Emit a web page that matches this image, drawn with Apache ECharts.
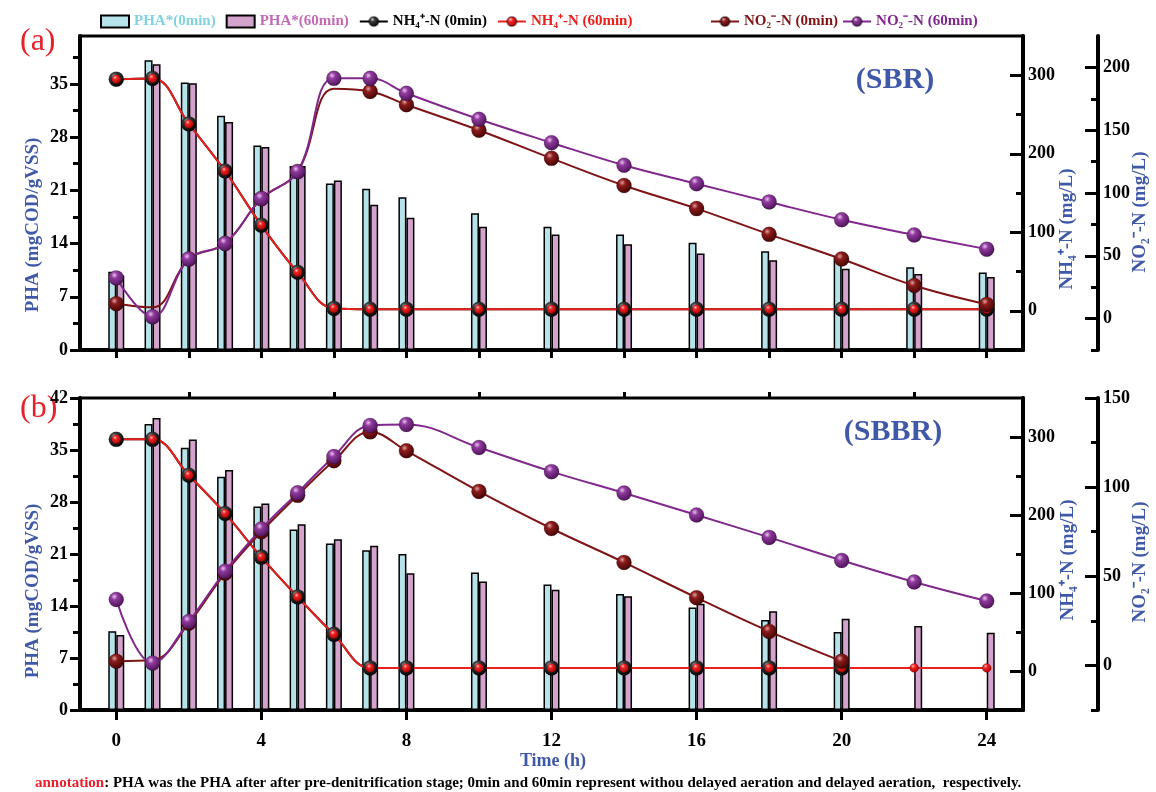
<!DOCTYPE html>
<html>
<head>
<meta charset="utf-8">
<script src="https://cdn.jsdelivr.net/npm/echarts@6/dist/echarts.min.js"></script>
<style>
  html, body { margin: 0; padding: 0; background: #fff; }
  #main { width: 1156px; height: 792px; }
</style>
</head>
<body>
<div id="main"></div>
<script>
// sampling times (h)
var times = [0, 1, 2, 3, 4, 5, 6, 7, 8, 10, 12, 14, 16, 18, 20, 22, 24];

// (a) SBR
var phaA0 = [10.3, 38.1, 35.2, 30.8, 26.9, 24.2, 21.9, 21.2, 20.1, 18.0, 16.2, 15.2, 14.1, 13.0, 12.2, 10.9, 10.2];
var phaA60 = [9.8, 37.6, 35.1, 30.0, 26.7, 24.2, 22.3, 19.1, 17.4, 16.2, 15.2, 13.9, 12.7, 11.8, 10.7, 10.0, 9.6];
var nh4A0 = [295, 296, 238, 178, 109, 49, 3, 2, 2, 2, 2, 2, 2, 2, 2, 2, 2];
var nh4A60 = [295, 296, 238, 178, 109, 49, 3, 2, 2, 2, 2, 2, 2, 2, 2, 2, 2];
var no2A0 = [11.9, 9, 47.4, 59.8, 95.5, 117, 183, 180.8, 170.3, 150, 127.6, 106, 87.6, 67.1, 47.4, 26.3, 11.3];
var no2A60 = [32.4, 1.4, 47.4, 59.8, 95.5, 117, 191.3, 191.3, 179.4, 158.7, 140, 122.1, 107.4, 92.9, 78.7, 66.6, 55.3];

// (b) SBBR
var phaB0 = [10.6, 38.5, 35.3, 31.4, 27.4, 24.3, 22.4, 21.5, 21.0, 18.5, 16.9, 15.6, 13.8, 12.1, 10.5, null, null];
var phaB60 = [10.1, 39.3, 36.4, 32.3, 27.8, 25.0, 23.0, 22.1, 18.4, 17.3, 16.2, 15.3, 14.3, 13.3, 12.3, 11.3, 10.4];
var nh4B0 = [297, 297, 251, 202, 146, 95, 47, 4, 4, 4, 4, 4, 4, 4, 4, null, null];
var nh4B60 = [297, 297, 251, 202, 146, 95, 47, 4, 4, 4, 4, 4, 4, 4, 4, 4, 4];
var no2B0 = [2.4, 3, 23.7, 51.8, 75, 95.4, 114.8, 131, 120.4, 97.6, 76.8, 57.8, 38, 19.1, 2.4, null, null];
var no2B60 = [37, 1.3, 24.6, 52.8, 76.5, 96.8, 117.2, 134.6, 135.2, 122.2, 108.7, 96.7, 84.4, 71.8, 58.9, 46.8, 36.1];

// points drawn without a marker (hidden in the original)
var hiddenNo2A0 = [1, 6];
var hiddenNo2B0 = [1];

var xMajor = [0, 4, 8, 12, 16, 20, 24];
var xMinor = [2, 6, 10, 14, 18, 22];

var names = ['PHA*(0min)', 'PHA*(60min)', 'NH\u2084\u207A-N (0min)', 'NH\u2084\u207A-N (60min)', 'NO\u2082\u207B-N (0min)', 'NO\u2082\u207B-N (60min)'];

var FONT = '"Liberation Serif", "Times New Roman", serif';
var BLUE = '#3f58a8';

function sphere(light, base, dark) {
  return {
    type: 'radial', x: 0.38, y: 0.32, r: 0.7,
    colorStops: [{ offset: 0, color: light }, { offset: 0.3, color: base }, { offset: 1, color: dark }]
  };
}
var blackBall = sphere('#c8c8c8', '#3a3a3a', '#000000');
var redBall = sphere('#ffc0c0', '#f02424', '#a80000');
var darkRedBall = sphere('#e0a0a0', '#8c1c1c', '#420404');
var purpleBall = sphere('#ecc0f0', '#8e3a9c', '#4c1256');

function pairs(vals, hidden) {
  var out = [];
  vals.forEach(function (v, i) {
    if (v === null) return;
    if (hidden && hidden.indexOf(i) >= 0) out.push({ value: [times[i], v], symbol: 'none' });
    else out.push([times[i], v]);
  });
  return out;
}

function xAxis(grid, showLabels) {
  var list = [];
  list.push({
    type: 'value', gridIndex: grid, min: -1, max: 25,
    axisLine: { show: true, onZero: false, lineStyle: { color: '#000', width: 4 } },
    axisTick: { show: true, customValues: showLabels ? xMajor : xMajor.concat(xMinor), length: showLabels ? 10 : 8, lineStyle: { color: '#000', width: 3 } },
    axisLabel: { show: showLabels, customValues: xMajor, margin: 22, fontFamily: FONT, fontWeight: 'bold', fontSize: 19, color: '#000' },
    splitLine: { show: false }
  });
  if (showLabels) {
    list.push({
      type: 'value', gridIndex: grid, min: -1, max: 25,
      axisLine: { show: false, onZero: false },
      axisTick: { show: true, customValues: xMinor, length: 6, lineStyle: { color: '#000', width: 3 } },
      axisLabel: { show: false },
      splitLine: { show: false }
    });
  }
  return list;
}

// one axis = a major axis (line, long ticks, labels) + a minor axis (short ticks)
function yPair(grid, pos, offset, min, max, major, minor, inside) {
  var base = { type: 'value', gridIndex: grid, position: pos, offset: offset, min: min, max: max, splitLine: { show: false } };
  var a = Object.assign({}, base, {
    axisLine: { show: true, onZero: false, lineStyle: { color: '#000', width: 4 } },
    axisTick: { show: true, inside: inside, customValues: major, length: inside ? 13 : 10, lineStyle: { color: '#000', width: 3 } },
    axisLabel: { show: true, customValues: major, margin: inside ? 5 : 12, fontFamily: FONT, fontWeight: 'bold', fontSize: 18, color: '#000' }
  });
  var b = Object.assign({}, base, {
    axisLine: { show: false, onZero: false },
    axisTick: { show: true, inside: inside, customValues: minor, length: 7, lineStyle: { color: '#000', width: 3 } },
    axisLabel: { show: false }
  });
  return [a, b];
}

var yAxes = [].concat(
  yPair(0, 'left', 0, 0, 41.3, [0, 7, 14, 21, 28, 35], [3.5, 10.5, 17.5, 24.5, 31.5, 38.5], false),
  yPair(0, 'right', 0, -50, 350, [0, 100, 200, 300], [-50, 50, 150, 250], true),
  yPair(0, 'right', 75, -25, 225, [0, 50, 100, 150, 200], [-25, 25, 75, 125, 175], true),
  yPair(1, 'left', 0, 0, 42, [0, 7, 14, 21, 28, 35, 42], [3.5, 10.5, 17.5, 24.5, 31.5, 38.5], false),
  yPair(1, 'right', 0, -50, 350, [0, 100, 200, 300], [-50, 50, 150, 250], true),
  yPair(1, 'right', 75, -25, 150, [0, 50, 100, 150], [-25, 25, 75, 125], true)
);
// y axis indices: panel a -> PHA 0, NH4 2, NO2 4 ; panel b -> PHA 6, NH4 8, NO2 10
// x axis indices: panel a -> 0 ; panel b -> 1 (2 = minor ticks)

function panelSeries(xi, yPha, yNh4, yNo2, p0, p60, n0, n60, o0, o60, hidden0) {
  var barStyle = function (c) { return { color: c, borderColor: '#000', borderWidth: 1.5 }; };
  var line = function (name, data, yi, color, ball, size, width) {
    return {
      name: name, type: 'line', xAxisIndex: xi, yAxisIndex: yi, data: data,
      smooth: 0.4, symbol: 'circle', symbolSize: size,
      lineStyle: { color: color, width: width },
      itemStyle: { color: ball, borderColor: 'rgba(0,0,0,0.35)', borderWidth: 0.5 },
      z: 5
    };
  };
  return [
    { name: names[0], type: 'bar', xAxisIndex: xi, yAxisIndex: yPha, data: pairs(p0), barWidth: 8, barGap: '0%', itemStyle: barStyle('#b6e3e9'), z: 2 },
    { name: names[1], type: 'bar', xAxisIndex: xi, yAxisIndex: yPha, data: pairs(p60), barWidth: 8, barGap: '0%', itemStyle: barStyle('#d4a3cd'), z: 2 },
    line(names[2], pairs(n0), yNh4, '#000', blackBall, 15, 2),
    line(names[3], pairs(n60), yNh4, '#e8211e', redBall, 9, 2),
    line(names[4], pairs(o0, hidden0), yNo2, '#7f1416', darkRedBall, 15, 2),
    line(names[5], pairs(o60), yNo2, '#80288c', purpleBall, 15, 2)
  ];
}

var legendText = function (c) { return { color: c, fontFamily: FONT, fontWeight: 'bold', fontSize: 15 }; };

var option = {
  animation: false,
  backgroundColor: '#fff',
  legend: [
    {
      left: 95, top: 9, itemWidth: 28, itemHeight: 12, itemGap: 10,
      data: [
        { name: names[0], icon: 'rect', textStyle: legendText('#7fd2e2') },
        { name: names[1], icon: 'rect', textStyle: legendText('#c26ab4') },
        { name: names[2], textStyle: legendText('#000') },
        { name: names[3], textStyle: legendText('#e8211e') }
      ]
    },
    {
      left: 705, top: 9, itemWidth: 28, itemHeight: 12, itemGap: 4,
      data: [
        { name: names[4], textStyle: legendText('#7f1416') },
        { name: names[5], textStyle: legendText('#80288c') }
      ]
    }
  ],
  grid: [
    { left: 80, top: 36, width: 943, height: 314, show: true, borderColor: '#000', borderWidth: 3, backgroundColor: 'transparent' },
    { left: 80, top: 398, width: 943, height: 312, show: true, borderColor: '#000', borderWidth: 3, backgroundColor: 'transparent' }
  ],
  xAxis: [].concat(xAxis(0, false), xAxis(1, true)),
  yAxis: yAxes,
  series: [].concat(
    panelSeries(0, 0, 2, 4, phaA0, phaA60, nh4A0, nh4A60, no2A0, no2A60, hiddenNo2A0),
    panelSeries(1, 6, 8, 10, phaB0, phaB60, nh4B0, nh4B60, no2B0, no2B60, hiddenNo2B0)
  ),
  graphic: [
    { type: 'text', left: 20, top: 26, style: { text: '(a)', fill: '#e8202a', font: '32px ' + FONT } },
    { type: 'text', left: 20, top: 393, style: { text: '(b)', fill: '#e8202a', font: '32px ' + FONT } },
    { type: 'text', x: 895, y: 80, style: { text: '(SBR)', fill: BLUE, font: 'bold 30px ' + FONT, align: 'center', verticalAlign: 'middle' } },
    { type: 'text', x: 893, y: 432, style: { text: '(SBBR)', fill: BLUE, font: 'bold 30px ' + FONT, align: 'center', verticalAlign: 'middle' } },
    { type: 'text', x: 33, y: 225, rotation: Math.PI / 2, style: { text: 'PHA (mgCOD/gVSS)', fill: BLUE, font: 'bold 19px ' + FONT, align: 'center', verticalAlign: 'middle' } },
    { type: 'text', x: 33, y: 591, rotation: Math.PI / 2, style: { text: 'PHA (mgCOD/gVSS)', fill: BLUE, font: 'bold 19px ' + FONT, align: 'center', verticalAlign: 'middle' } },
    { type: 'text', x: 1067, y: 229, rotation: Math.PI / 2, style: { text: 'NH\u2084\u207A-N (mg/L)', fill: BLUE, font: 'bold 19px ' + FONT, align: 'center', verticalAlign: 'middle' } },
    { type: 'text', x: 1140, y: 212, rotation: Math.PI / 2, style: { text: 'NO\u2082\u207B-N (mg/L)', fill: BLUE, font: 'bold 19px ' + FONT, align: 'center', verticalAlign: 'middle' } },
    { type: 'text', x: 1068, y: 560, rotation: Math.PI / 2, style: { text: 'NH\u2084\u207A-N (mg/L)', fill: BLUE, font: 'bold 19px ' + FONT, align: 'center', verticalAlign: 'middle' } },
    { type: 'text', x: 1140, y: 562, rotation: Math.PI / 2, style: { text: 'NO\u2082\u207B-N (mg/L)', fill: BLUE, font: 'bold 19px ' + FONT, align: 'center', verticalAlign: 'middle' } },
    { type: 'text', x: 553, y: 761, style: { text: 'Time (h)', fill: BLUE, font: 'bold 18px ' + FONT, align: 'center', verticalAlign: 'middle' } },
    {
      type: 'text', x: 35, y: 783,
      style: {
        text: '{a|annotation}{b|: PHA was the PHA after after pre-denitrification stage; 0min and 60min represent withou delayed aeration and delayed aeration,  respectively.}',
        verticalAlign: 'middle',
        rich: {
          a: { fill: '#e8202a', font: 'bold 15px ' + FONT },
          b: { fill: '#000', font: 'bold 15px ' + FONT }
        }
      }
    }
  ]
};

var myChart = echarts.init(document.getElementById('main'));
myChart.setOption(option);
</script>
</body>
</html>
